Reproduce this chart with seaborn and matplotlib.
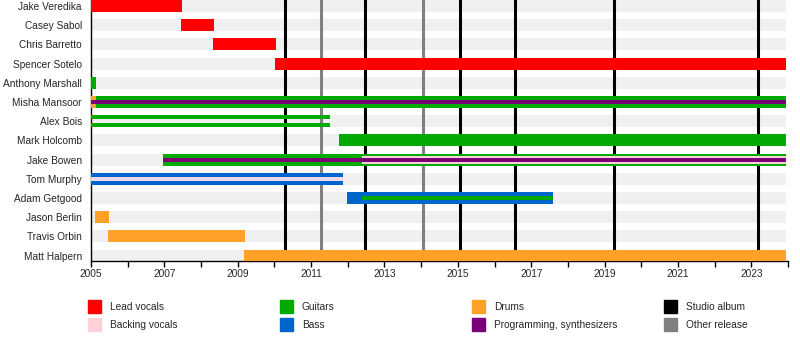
import matplotlib
matplotlib.use("Agg")
import matplotlib.pyplot as plt
from matplotlib.patches import Rectangle
import seaborn as sns
import pandas as pd

sns.set_theme(style="white")
plt.rcParams['font.family'] = ['Liberation Sans', 'DejaVu Sans']

END = 2023.95
members = ["Jake Veredika", "Casey Sabol", "Chris Barretto", "Spencer Sotelo",
           "Anthony Marshall", "Misha Mansoor", "Alex Bois", "Mark Holcomb",
           "Jake Bowen", "Tom Murphy", "Adam Getgood", "Jason Berlin",
           "Travis Orbin", "Matt Halpern"]

# role segments: member, start, end
lead_vocals = [("Jake Veredika", 2005.0, 2007.47), ("Casey Sabol", 2007.45, 2008.35),
               ("Chris Barretto", 2008.33, 2010.05), ("Spencer Sotelo", 2010.02, END)]
guitars = [("Anthony Marshall", 2005.0, 2005.14), ("Misha Mansoor", 2005.0, END),
           ("Mark Holcomb", 2011.77, END), ("Jake Bowen", 2006.97, END)]
guitars_split = [("Alex Bois", 2005.0, 2011.52)]
guitars_inner = [("Adam Getgood", 2012.40, 2017.59)]
bass = [("Tom Murphy", 2005.0, 2011.88), ("Adam Getgood", 2011.97, 2017.59)]
drums = [("Misha Mansoor", 2005.0, 2005.14), ("Jason Berlin", 2005.11, 2005.49),
         ("Travis Orbin", 2005.47, 2009.20), ("Matt Halpern", 2009.17, END)]
backing_vocals_wide = [("Jake Bowen", 2012.40, END)]
backing_vocals = [("Tom Murphy", 2005.0, 2011.88)]
programming = [("Misha Mansoor", 2005.0, END), ("Jake Bowen", 2006.97, END)]

studio_albums = [2010.30, 2012.47, 2015.07, 2016.56, 2019.26, 2023.17]
other_releases = [2011.27, 2014.05]

C_LEAD = "#FF0000"
C_BACK = "#FFD0D8"
C_BACK_BAR = "#EED8EE"
C_GTR = "#00AA00"
C_BASS = "#0066CC"
C_DRUM = "#FFA126"
C_PROG = "#7A0077"
C_STUDIO = "#000000"
C_OTHER = "#808080"

ypos = {m: i for i, m in enumerate(members)}

fig = plt.figure(figsize=(8, 3.5), dpi=100)
ax = fig.add_axes([91/800, 1 - 261/350, (788-91)/800, 261/350])

H = 0.625
T = 0.21

def draw(segs, color, height, offset=0.0, z=3):
    df = pd.DataFrame(segs, columns=["member", "start", "end"])
    ax.barh([ypos[m] + offset for m in df["member"]], df["end"] - df["start"],
            left=df["start"], height=height, color=color, linewidth=0, zorder=z)

# background bands
ax.barh(range(len(members)), [END - 2005.0] * len(members), left=2005.0, height=H,
        color="#F0F0F0", linewidth=0, zorder=1)

for x in studio_albums:
    ax.axvline(x, color=C_STUDIO, lw=2.2, zorder=2)
for x in other_releases:
    ax.axvline(x, color=C_OTHER, lw=2.2, zorder=2)

draw(lead_vocals, C_LEAD, H)
draw(guitars, C_GTR, H)
draw(bass, C_BASS, H)
draw(drums, C_DRUM, H, z=4)
draw(guitars_split, C_GTR, T, offset=-(H - T) / 2)
draw(guitars_split, C_GTR, T, offset=(H - T) / 2)
draw(backing_vocals_wide, C_BACK, 2 * T, z=5)
draw(backing_vocals, C_BACK_BAR, T, z=5)
draw(guitars_inner, C_GTR, T, z=5)
draw(programming, C_PROG, T, z=6)

ax.set_xlim(2005, 2024)
ax.set_ylim(13 + 5.5/19.2, -6/19.2)
ax.set_yticks(range(len(members)))
ax.set_yticklabels(members, fontsize=7.3)
ax.tick_params(axis="y", length=0, pad=6.5)
ax.set_xticks(range(2005, 2024, 2))
ax.set_xticks(range(2005, 2025), minor=True)
ax.set_xticklabels([str(y) for y in range(2005, 2024, 2)], fontsize=7.3)
ax.tick_params(axis="x", which="both", direction="out", length=4, width=1,
               color="black", bottom=True, pad=2)
for s in ["top", "right"]:
    ax.spines[s].set_visible(False)
for s in ["left", "bottom"]:
    ax.spines[s].set_color("black")
    ax.spines[s].set_linewidth(1)
ax.grid(False)
ax.set_facecolor("white")

legend_items = [("Lead vocals", C_LEAD), ("Backing vocals", C_BACK),
                ("Guitars", C_GTR), ("Bass", C_BASS),
                ("Drums", C_DRUM), ("Programming, synthesizers", C_PROG),
                ("Studio album", C_STUDIO), ("Other release", C_OTHER)]
col_x = [88, 280, 472, 664]
row_y = [300, 318]
for k, (label, color) in enumerate(legend_items):
    cx = col_x[k // 2]
    ry = row_y[k % 2]
    fig.patches.append(Rectangle((cx/800, 1 - (ry + 13)/350), 13/800, 13/350,
                                 transform=fig.transFigure, color=color, zorder=5))
    fig.text((cx + 22)/800, 1 - (ry + 7)/350, label, fontsize=7.3,
             va="center", ha="left")

fig.savefig("out.png", dpi=100)
